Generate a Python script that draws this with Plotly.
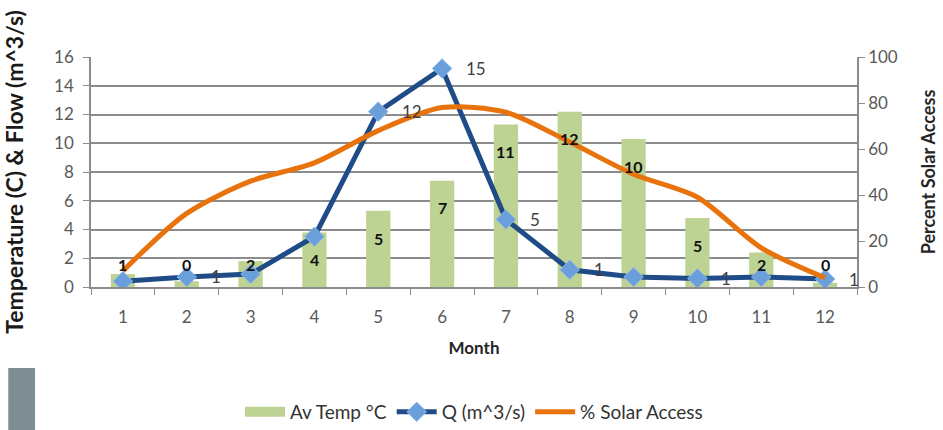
import plotly.graph_objects as go

# Monthly data
months = ["1", "2", "3", "4", "5", "6", "7", "8", "9", "10", "11", "12"]
av_temp = [0.9, 0.4, 1.8, 3.8, 5.3, 7.4, 11.3, 12.2, 10.3, 4.8, 2.4, 0.3]
flow_q = [0.4, 0.7, 0.9, 3.5, 12.2, 15.2, 4.7, 1.2, 0.7, 0.6, 0.7, 0.55]
solar_access = [7, 32, 46, 54, 68, 78, 76, 63, 49, 39, 17, 4]
# months whose flow value is labelled
flow_labelled = ["2", "5", "6", "7", "8", "10", "12"]

FONT = "Lato, 'Open Sans', sans-serif"
GREY = "#595959"
GRID = "#8c8c8c"
GREEN = "#bdd393"

fig = go.Figure()

fig.add_trace(go.Bar(
    x=months, y=av_temp, name="Av Temp °C",
    marker=dict(color=GREEN, line=dict(width=0)),
    width=0.38, yaxis="y", hoverinfo="x+y", showlegend=False,
))
# wide swatch for the temperature legend entry
fig.add_trace(go.Scatter(
    x=[None], y=[None], name="Av Temp °C", mode="lines",
    line=dict(color=GREEN, width=12), hoverinfo="skip",
))

fig.add_trace(go.Scatter(
    x=months, y=flow_q, name="Q (m^3/s)", mode="lines+markers",
    line=dict(color="#1f4b87", width=5),
    marker=dict(symbol="diamond", size=15, color="#6a9fdc",
                line=dict(color="#8db8ea", width=1)),
    yaxis="y",
))

fig.add_trace(go.Scatter(
    x=months, y=solar_access, name="% Solar Access", mode="lines",
    line=dict(color="#e8720c", width=5, shape="spline", smoothing=0.8),
    yaxis="y2",
))

annotations = []
# temperature labels, just below the top of each bar
for i, v in enumerate(av_temp):
    annotations.append(dict(
        x=i, y=max(v - 1.9, 1.55), xref="x", yref="y",
        text=f"<b>{v:.0f}</b>", showarrow=False,
        font=dict(family=FONT, size=16, color="#111111"),
    ))
# flow labels, to the right of the markers
for i, (m, v) in enumerate(zip(months, flow_q)):
    if m in flow_labelled:
        annotations.append(dict(
            x=i, y=v, xref="x", yref="y", text=f"{v:.0f}",
            showarrow=False, xanchor="left", xshift=22,
            font=dict(family=FONT, size=17, color="#404040"),
        ))

fig.update_layout(
    width=943, height=430,
    margin=dict(l=91, r=86, t=57, b=143, autoexpand=False),
    paper_bgcolor="white", plot_bgcolor="white",
    font=dict(family=FONT, color=GREY, size=17),
    showlegend=True,
    legend=dict(orientation="h", x=0.5, xanchor="center",
                yref="container", y=0.042, yanchor="middle",
                font=dict(size=19, color="#333333"),
                traceorder="normal", itemwidth=40),
    xaxis=dict(
        type="category", tickson="boundaries", ticks="outside",
        ticklen=6, tickcolor=GRID, showline=True, linecolor=GRID,
        linewidth=1.5, showgrid=False, range=[-0.5, 11.5],
        tickfont=dict(size=17, color=GREY), automargin=False,
        ticklabelstandoff=14,
        title=dict(text="<b>Month</b>", standoff=16,
                   font=dict(size=17, color="#262626")),
    ),
    yaxis=dict(
        range=[0, 16], dtick=2, ticks="outside", ticklen=6,
        tickcolor=GRID, showline=True, linecolor=GRID, linewidth=1.5,
        showgrid=True, gridcolor=GRID, gridwidth=1.5, zeroline=False,
        tickfont=dict(size=17, color=GREY), automargin=False,
        ticklabelstandoff=6,
        title=dict(text="<b>Temperature (C) &amp; Flow (m^3/s)</b>",
                   standoff=28, font=dict(size=23, color="#1a1a1a")),
    ),
    yaxis2=dict(
        range=[0, 100], dtick=20, overlaying="y", side="right",
        ticks="outside", ticklen=6, tickcolor=GRID, showline=True,
        linecolor=GRID, linewidth=1.5, showgrid=False, zeroline=False,
        tickfont=dict(size=17, color=GREY), automargin=False,
        title=dict(text="<b>Percent Solar Access</b>", standoff=26,
                   font=dict(size=18, color="#262626")),
    ),
    annotations=annotations,
    shapes=[dict(type="rect", xref="paper", yref="paper",
                 x0=-0.108, x1=-0.073, y0=-0.63, y1=-0.352,
                 fillcolor="#7f8d95", line=dict(width=0), layer="above")],
)

fig.write_html("out.html")
